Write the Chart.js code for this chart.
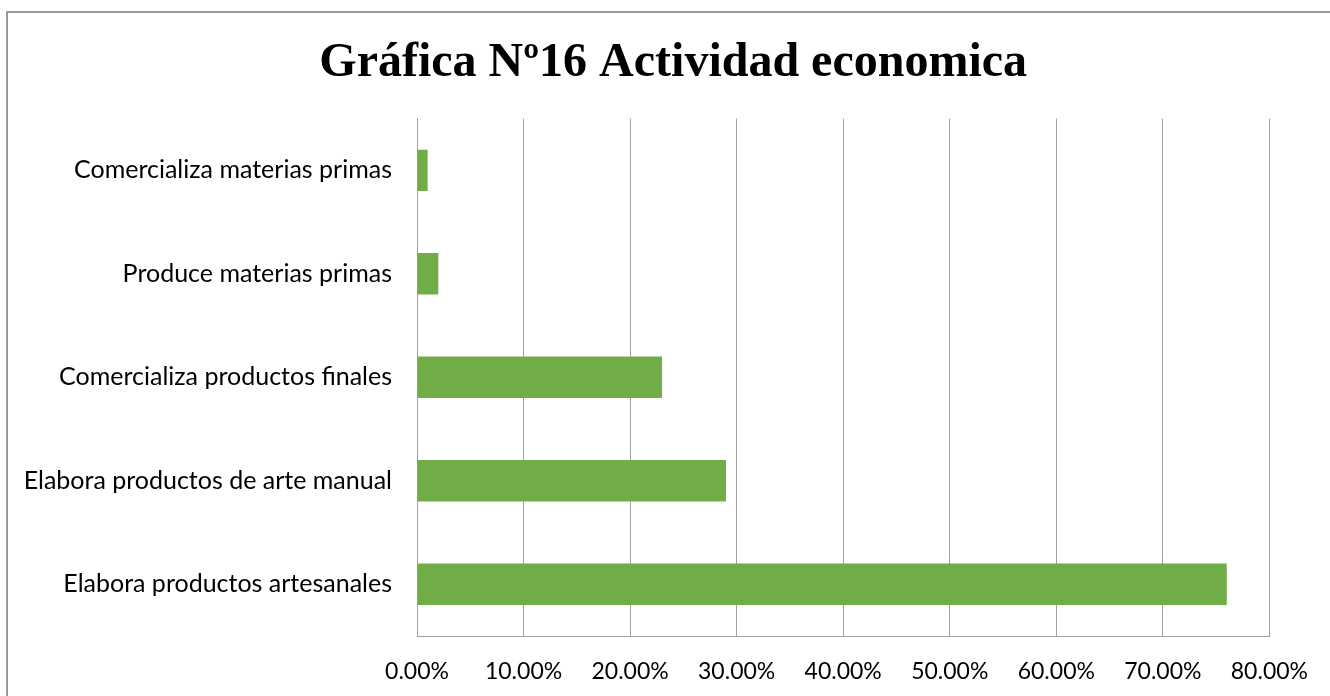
<!DOCTYPE html>
<html>
<head>
<meta charset="utf-8">
<script src="https://cdn.jsdelivr.net/npm/chart.js@4"></script>
<style>
  html, body { margin: 0; padding: 0; background: #fff; overflow: hidden; }
  #wrap { position: relative; width: 1330px; height: 696px; }
  #frame { position: absolute; left: 6px; top: 11px; width: 1400px; height: 800px;
           border-left: 2px solid #9a9a9a; border-top: 2px solid #9a9a9a; box-sizing: border-box; }
  canvas { position: absolute; left: 0; top: 0; }
</style>
</head>
<body>
<div id="wrap">
  <div id="frame"></div>
  <canvas id="c" width="1330" height="696"></canvas>
</div>
<script>
const categories = [
  "Comercializa materias primas",
  "Produce materias primas",
  "Comercializa productos finales",
  "Elabora productos de arte manual",
  "Elabora productos artesanales"
];
const values = [1, 2, 23, 29, 76];
const tickLabels = ["0.00%", "10.00%", "20.00%", "30.00%", "40.00%", "50.00%", "60.00%", "70.00%", "80.00%"];
const titleText = "Gráfica Nº16 Actividad economica";

const titleShift = {
  id: "titleShift",
  afterLayout(chart) {
    const t = chart.titleBlock;
    if (t) { t.left = 77; t.right = chart.chartArea.right; t.width = t.right - t.left; }
  }
};

new Chart(document.getElementById("c"), {
  type: "bar",
  data: {
    labels: categories,
    datasets: [{
      data: values,
      backgroundColor: "#70ad47",
      borderWidth: 0,
      categoryPercentage: 0.8,
      barPercentage: 0.5
    }]
  },
  plugins: [titleShift],
  options: {
    indexAxis: "y",
    responsive: false,
    animation: false,
    devicePixelRatio: 1,
    layout: { padding: { left: 0, right: 57, top: 0, bottom: 0 } },
    plugins: {
      legend: { display: false },
      tooltip: { enabled: false },
      title: {
        display: true,
        text: titleText,
        color: "#000",
        font: { family: "Liberation Serif", size: 48, weight: "bold", lineHeight: 1.2 },
        padding: { top: 35, bottom: 26 }
      }
    },
    scales: {
      x: {
        min: 0, max: 80,
        ticks: {
          stepSize: 10,
          color: "#000",
          font: { family: "Lato", size: 23 },
          padding: 22,
          callback: (v, i) => tickLabels[i]
        },
        grid: { color: "#a0a0a0", lineWidth: 1, drawTicks: false },
        border: { display: true, color: "#a0a0a0", width: 1 },
        afterFit: s => { s.height = 60; }
      },
      y: {
        ticks: { color: "#000", font: { family: "Lato", size: 25 }, padding: 25 },
        grid: { display: false, drawTicks: false },
        border: { display: true, color: "#a0a0a0", width: 1 },
        afterFit: s => { s.width = 417; }
      }
    }
  }
});
</script>
</body>
</html>
